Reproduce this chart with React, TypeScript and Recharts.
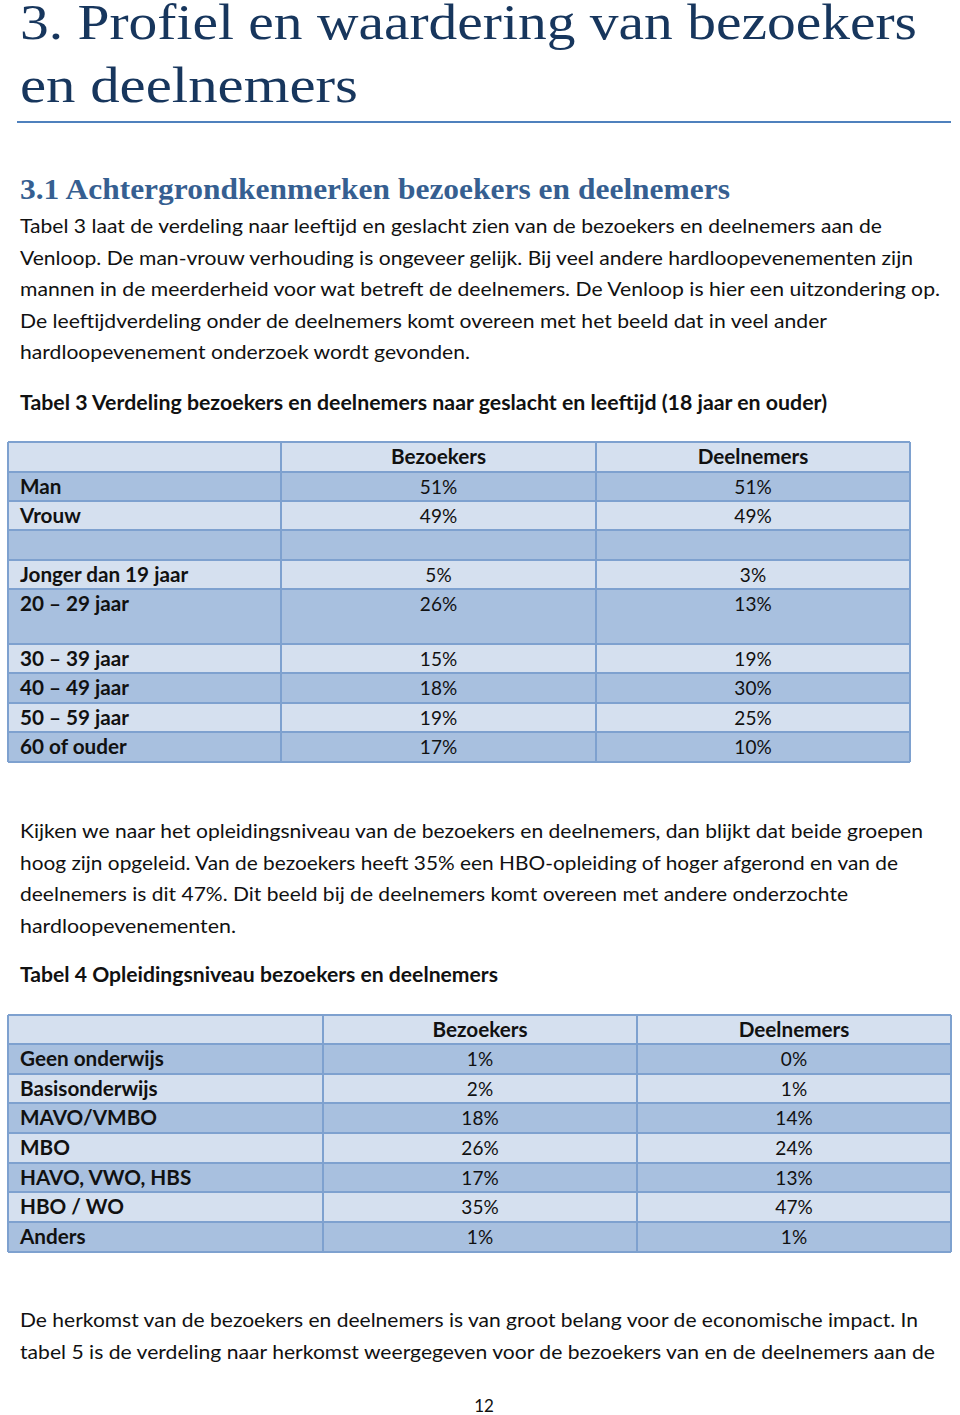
import React from 'react';
import { Surface, Layer } from 'recharts';

// tabel 3
const kolommen = ['Bezoekers', 'Deelnemers'];
const tabel3Rijen = ['Man', 'Vrouw', '', 'Jonger dan 19 jaar', '20 – 29 jaar', '30 – 39 jaar', '40 – 49 jaar', '50 – 59 jaar', '60 of ouder'];
const tabel3Bezoekers = [51, 49, null, 5, 26, 15, 18, 19, 17];
const tabel3Deelnemers = [51, 49, null, 3, 13, 19, 30, 25, 10];

// tabel 4
const tabel4Rijen = ['Geen onderwijs', 'Basisonderwijs', 'MAVO/VMBO', 'MBO', 'HAVO, VWO, HBS', 'HBO / WO', 'Anders'];
const tabel4Bezoekers = [1, 2, 18, 26, 17, 35, 1];
const tabel4Deelnemers = [0, 1, 14, 24, 13, 47, 1];

const alinea1 = [
  'Tabel 3 laat de verdeling naar leeftijd en geslacht zien van de bezoekers en deelnemers aan de',
  'Venloop. De man-vrouw verhouding is ongeveer gelijk. Bij veel andere hardloopevenementen zijn',
  'mannen in de meerderheid voor wat betreft de deelnemers. De Venloop is hier een uitzondering op.',
  'De leeftijdverdeling onder de deelnemers komt overeen met het beeld dat in veel ander',
  'hardloopevenement onderzoek wordt gevonden.',
];
const alinea2 = [
  'Kijken we naar het opleidingsniveau van de bezoekers en deelnemers, dan blijkt dat beide groepen',
  'hoog zijn opgeleid. Van de bezoekers heeft 35% een HBO-opleiding of hoger afgerond en van de',
  'deelnemers is dit 47%. Dit beeld bij de deelnemers komt overeen met andere onderzochte',
  'hardloopevenementen.',
];
const alinea3 = [
  'De herkomst van de bezoekers en deelnemers is van groot belang voor de economische impact. In',
  'tabel 5 is de verdeling naar herkomst weergegeven voor de bezoekers van en de deelnemers aan de',
];

const SANS = 'Lato, "Open Sans", sans-serif';
const SERIF = '"Liberation Serif", serif';
const LICHT = '#D5E0EF';
const DONKER = '#A8C0DF';
const RAND = '#7EA1CF';

type Regel = { tekst: string; y: number; breedte: number };

function Alinea({ regels, bold }: { regels: Regel[]; bold?: boolean }) {
  return (
    <Layer>
      {regels.map((r, i) => (
        <text
          key={i}
          x={20}
          y={r.y}
          fontFamily={SANS}
          fontSize={20}
          fontWeight={bold ? 700 : 400}
          fill="#111"
          textLength={r.breedte}
          lengthAdjust="spacingAndGlyphs"
        >
          {r.tekst}
        </text>
      ))}
    </Layer>
  );
}

function Tabel({
  rijen,
  bezoekers,
  deelnemers,
  grenzen,
  kolomX,
}: {
  rijen: string[];
  bezoekers: (number | null)[];
  deelnemers: (number | null)[];
  grenzen: number[];
  kolomX: number[];
}) {
  const [x0, x1, x2, x3] = kolomX;
  const alle = [{ label: '', b: null as number | null, d: null as number | null, kop: true }].concat(
    rijen.map((label, i) => ({ label, b: bezoekers[i], d: deelnemers[i], kop: false }))
  );
  return (
    <Layer>
      {alle.map((r, i) => {
        const top = grenzen[i];
        const h = grenzen[i + 1] - top;
        const fill = i % 2 === 1 ? DONKER : LICHT;
        const base = top + Math.min(22, h - 7);
        return (
          <g key={i}>
            <rect x={x0} y={top} width={x3 - x0} height={h} fill={fill} />
            {r.kop ? (
              <>
                <text x={(x1 + x2) / 2} y={base} textAnchor="middle" fontFamily={SANS} fontSize={20.7} fontWeight={700} fill="#111">
                  {kolommen[0]}
                </text>
                <text x={(x2 + x3) / 2} y={base} textAnchor="middle" fontFamily={SANS} fontSize={20.7} fontWeight={700} fill="#111">
                  {kolommen[1]}
                </text>
              </>
            ) : (
              <>
                <text x={20} y={base} fontFamily={SANS} fontSize={20.7} fontWeight={700} fill="#111">
                  {r.label}
                </text>
                {r.b !== null && (
                  <text x={(x1 + x2) / 2} y={base} textAnchor="middle" fontFamily={SANS} fontSize={19} fill="#111">
                    {r.b}%
                  </text>
                )}
                {r.d !== null && (
                  <text x={(x2 + x3) / 2} y={base} textAnchor="middle" fontFamily={SANS} fontSize={19} fill="#111">
                    {r.d}%
                  </text>
                )}
              </>
            )}
          </g>
        );
      })}
      {grenzen.map((y, i) => (
        <line key={'h' + i} x1={x0} x2={x3} y1={y} y2={y} stroke={RAND} strokeWidth={2} />
      ))}
      {kolomX.map((x, i) => (
        <line key={'v' + i} x1={x} x2={x} y1={grenzen[0]} y2={grenzen[grenzen.length - 1]} stroke={RAND} strokeWidth={2} />
      ))}
    </Layer>
  );
}

export default function App() {
  const breedte1 = [862, 893, 920, 807, 450];
  const breedte2 = [903, 878, 828, 216];
  const breedte3 = [898, 915];
  return (
    <div style={{ position: 'absolute', left: 0, top: 0, width: 960, height: 1415, overflow: 'hidden', background: '#fff' }}>
      <Surface width={960} height={1415} viewBox={{ x: 0, y: 0, width: 960, height: 1415 }}>
        <rect x={0} y={0} width={960} height={1415} fill="#fff" />
        <text x={20} y={39} fontFamily={SERIF} fontSize={51} fill="#17365D" textLength={897} lengthAdjust="spacingAndGlyphs">
          3. Profiel en waardering van bezoekers
        </text>
        <text x={20} y={102} fontFamily={SERIF} fontSize={51} fill="#17365D" textLength={338} lengthAdjust="spacingAndGlyphs">
          en deelnemers
        </text>
        <line x1={17} x2={951} y1={122} y2={122} stroke="#4F81BD" strokeWidth={2} />
        <text x={20} y={199} fontFamily={SERIF} fontSize={29} fontWeight={700} fill="#365F91" textLength={710} lengthAdjust="spacingAndGlyphs">
          3.1 Achtergrondkenmerken bezoekers en deelnemers
        </text>

        <Alinea regels={alinea1.map((tekst, i) => ({ tekst, y: 233 + i * 31.5, breedte: breedte1[i] }))} />
        <Alinea
          bold
          regels={[{ tekst: 'Tabel 3 Verdeling bezoekers en deelnemers naar geslacht en leeftijd (18 jaar en ouder)', y: 410, breedte: 807 }]}
        />
        <Tabel
          rijen={tabel3Rijen}
          bezoekers={tabel3Bezoekers}
          deelnemers={tabel3Deelnemers}
          grenzen={[442, 472, 501, 530, 560, 589, 644, 673, 703, 732, 762]}
          kolomX={[8, 281, 596, 910]}
        />

        <Alinea regels={alinea2.map((tekst, i) => ({ tekst, y: 838 + i * 31.5, breedte: breedte2[i] }))} />
        <Alinea bold regels={[{ tekst: 'Tabel 4 Opleidingsniveau bezoekers en deelnemers', y: 982, breedte: 478 }]} />
        <Tabel
          rijen={tabel4Rijen}
          bezoekers={tabel4Bezoekers}
          deelnemers={tabel4Deelnemers}
          grenzen={[1015, 1044, 1074, 1103, 1133, 1163, 1192, 1222, 1252]}
          kolomX={[8, 323, 637, 951]}
        />

        <Alinea regels={alinea3.map((tekst, i) => ({ tekst, y: 1327 + i * 31.5, breedte: breedte3[i] }))} />
        <text x={484} y={1412} textAnchor="middle" fontFamily={SANS} fontSize={17} fill="#111">
          12
        </text>
      </Surface>
    </div>
  );
}
